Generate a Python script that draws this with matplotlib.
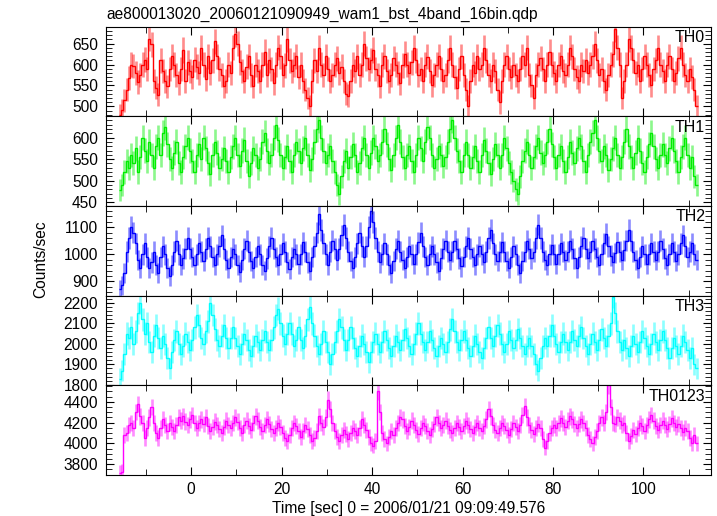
import numpy as np
import matplotlib
matplotlib.use('Agg')
import matplotlib.pyplot as plt
from matplotlib.ticker import MultipleLocator

plt.rcParams['font.family'] = ['Liberation Sans', 'DejaVu Sans']

# 0.5 s bins, from -16 s to 112 s
edges = np.arange(-16, 112.01, 0.5)
t = edges[:-1] + 0.25

th0 = [480, 492, 515, 540, 568, 600, 596, 580, 558, 575, 600, 612, 590, 662, 648, 560,
       545, 528, 610, 585, 560, 548, 590, 620, 600, 575, 556, 590, 635, 560, 605, 585,
       570, 612, 595, 580, 640, 600, 565, 620, 580, 610, 655, 620, 590, 575, 548, 560,
       600, 580, 640, 672, 650, 605, 585, 560, 595, 620, 575, 548, 600, 585, 560, 600,
       630, 575, 610, 590, 555, 600, 640, 620, 575, 598, 660, 610, 585, 600, 620, 570,
       600, 560, 540, 520, 500, 560, 610, 585, 640, 600, 575, 620, 590, 560, 575, 600,
       615, 580, 595, 560, 530, 525, 560, 600, 585, 620, 575, 600, 650, 615, 590, 610,
       635, 590, 575, 548, 600, 620, 585, 560, 575, 615, 600, 580, 555, 598, 625, 600,
       580, 605, 640, 610, 575, 590, 560, 600, 618, 585, 550, 575, 600, 620, 590, 560,
       575, 610, 640, 600, 570, 545, 590, 620, 575, 540, 500, 560, 600, 580, 620, 590,
       600, 640, 610, 575, 560, 600, 585, 540, 510, 560, 600, 620, 590, 570, 600, 575,
       560, 590, 620, 600, 640, 575, 550, 520, 575, 600, 615, 590, 560, 600, 630, 600,
       580, 560, 600, 620, 585, 575, 600, 640, 620, 590, 570, 560, 600, 585, 610, 580,
       600, 620, 650, 610, 575, 590, 560, 540, 575, 600, 625, 685, 640, 600, 520, 560,
       600, 660, 640, 610, 580, 600, 560, 590, 620, 600, 575, 550, 590, 610, 640, 600,
       585, 560, 600, 620, 590, 560, 580, 615, 640, 600, 575, 560, 590, 570, 540, 500]

th1 = [478, 490, 520, 545, 530, 560, 540, 575, 520, 555, 600, 570, 545, 590, 560, 530,
       580, 600, 560, 610, 625, 585, 550, 530, 565, 590, 540, 520, 555, 580, 600, 570,
       545, 520, 560, 585, 550, 600, 575, 540, 515, 560, 590, 565, 530, 550, 575, 545,
       520, 555, 580, 600, 560, 535, 570, 595, 545, 510, 540, 575, 560, 530, 550, 590,
       610, 570, 540, 560, 600, 630, 595, 560, 530, 555, 580, 545, 520, 560, 590, 570,
       540, 575, 600, 560, 525, 550, 590, 620, 640, 600, 570, 540, 560, 580, 545, 520,
       490, 470, 510, 545, 570, 530, 555, 585, 560, 520, 540, 575, 600, 560, 530, 565,
       600, 580, 545, 560, 590, 620, 585, 550, 525, 560, 600, 630, 590, 555, 530, 560,
       580, 545, 520, 560, 600, 575, 545, 590, 625, 600, 560, 530, 550, 580, 560, 535,
       555, 590, 620, 640, 600, 570, 545, 520, 560, 590, 560, 530, 555, 580, 545, 520,
       560, 595, 570, 540, 515, 550, 585, 560, 530, 560, 600, 575, 540, 520, 500, 480,
       470, 510, 545, 570, 590, 560, 530, 555, 580, 600, 565, 540, 560, 590, 620, 585,
       555, 530, 560, 580, 545, 520, 555, 590, 565, 540, 575, 600, 580, 545, 520, 560,
       590, 610, 640, 600, 570, 545, 580, 560, 525, 550, 575, 600, 560, 530, 555, 590,
       620, 580, 555, 530, 565, 600, 570, 540, 520, 555, 585, 610, 580, 550, 530, 560,
       585, 560, 540, 575, 600, 570, 545, 520, 555, 580, 600, 560, 530, 555, 510, 490]

th2 = [870, 885, 930, 1010, 1060, 1100, 1080, 1040, 980, 950, 1000, 1040, 990, 950, 970, 1010,
       960, 930, 990, 1030, 1000, 950, 920, 960, 1010, 1050, 1000, 960, 985, 1020, 1060, 1020,
       990, 960, 1000, 1040, 1010, 975, 1020, 1060, 1030, 990, 960, 1000, 1030, 1070, 1020, 980,
       950, 990, 1020, 1000, 960, 935, 980, 1020, 1050, 1010, 975, 950, 990, 1030, 1000, 960,
       940, 985, 1030, 1060, 1020, 990, 960, 1000, 1040, 1010, 970, 945, 990, 1020, 1000, 965,
       1000, 1045, 1010, 970, 940, 990, 1030, 1080, 1150, 1090, 1040, 1000, 960, 1010, 1050, 1020,
       980, 1020, 1070, 1110, 1060, 1010, 975, 950, 990, 1040, 1080, 1030, 990, 1030, 1100, 1160,
       1120, 1060, 1010, 970, 1000, 1040, 1000, 960, 930, 975, 1020, 1050, 1010, 980, 950, 990,
       1030, 1000, 965, 1000, 1045, 1080, 1030, 990, 960, 1000, 1030, 1000, 970, 940, 985, 1020,
       1050, 1010, 980, 1010, 1050, 1020, 985, 955, 990, 1030, 1060, 1020, 990, 960, 1000, 1030,
       1000, 970, 1010, 1060, 1090, 1040, 1000, 975, 1010, 1045, 1010, 975, 950, 990, 1030, 1000,
       960, 930, 975, 1010, 1050, 1020, 985, 1010, 1060, 1110, 1060, 1010, 980, 960, 1000, 1035,
       1000, 965, 1000, 1040, 1010, 980, 1010, 1050, 1020, 985, 950, 990, 1030, 1060, 1020, 985,
       1010, 1050, 1020, 990, 960, 1000, 1040, 1075, 1030, 995, 970, 1005, 1045, 1010, 980, 1015,
       1050, 1090, 1050, 1010, 980, 950, 990, 1030, 1000, 965, 1000, 1040, 1010, 980, 1010, 1050,
       1020, 985, 960, 1000, 1040, 1010, 975, 1000, 1040, 1070, 1030, 990, 1010, 1040, 1000, 980]

th3 = [1830, 1870, 1950, 2050, 2030, 2080, 2000, 2060, 2150, 2200, 2120, 2050, 2100, 2010, 1960, 2040,
       2090, 2030, 1980, 2040, 2000, 1930, 1880, 1960, 2020, 2060, 2000, 1950, 1990, 2050, 2010, 1970,
       2020, 2080, 2140, 2090, 2030, 2000, 2060, 2110, 2200, 2140, 2070, 2020, 1990, 2040, 2090, 2030,
       1980, 2030, 2080, 2030, 1990, 1950, 2000, 2050, 2020, 1970, 1940, 1990, 2040, 2010, 1970, 2020,
       2060, 2010, 1970, 2020, 2080, 2140, 2170, 2100, 2040, 2000, 2050, 2100, 2050, 1990, 2020, 2080,
       2020, 1980, 2040, 2120, 2180, 2100, 2040, 1990, 1950, 2000, 2060, 2010, 1960, 1900, 1950, 2010,
       2060, 2120, 2080, 2020, 1970, 2020, 2080, 2030, 1980, 1940, 1990, 2040, 2000, 1960, 1910, 1960,
       2010, 2050, 2000, 1960, 2010, 2060, 2020, 1980, 1940, 1990, 2040, 2010, 1970, 2020, 2070, 2030,
       1990, 1950, 2000, 2050, 2100, 2050, 2010, 1970, 2010, 2060, 2020, 1980, 1940, 1990, 2030, 2000,
       1960, 2010, 2070, 2120, 2060, 2010, 1970, 2020, 2060, 2020, 1980, 1940, 1990, 2040, 2000, 1960,
       1930, 1980, 2030, 2080, 2030, 1990, 2040, 2090, 2050, 2000, 1960, 2000, 2060, 2020, 1980, 2020,
       2070, 2030, 1990, 1950, 1990, 2030, 1990, 1950, 1900, 1870, 1930, 1990, 2030, 1990, 2040, 2090,
       2040, 2000, 1960, 2010, 2050, 2010, 1970, 2010, 2060, 2020, 1990, 2040, 2080, 2030, 1990, 1950,
       2000, 2050, 2010, 1970, 2020, 2070, 2030, 1990, 2040, 2100, 2230, 2150, 2060, 2010, 1970, 2020,
       1980, 1940, 1990, 2040, 2000, 1960, 2010, 2060, 2030, 1990, 1950, 2000, 2050, 2010, 1970, 2020,
       2060, 2020, 1980, 1930, 1980, 2030, 1990, 1950, 1990, 2040, 2010, 1970, 1930, 1980, 1900, 1880]

th0123 = [3715, 3730, 4080, 4100, 4180, 4200, 4150, 4300, 4380, 4260, 4200, 4050, 4150, 4250, 4350, 4200,
          4100, 4050, 4150, 4230, 4180, 4120, 4200, 4160, 4120, 4180, 4250, 4220, 4260, 4210, 4180, 4230,
          4270, 4200, 4150, 4200, 4230, 4190, 4250, 4170, 4120, 4160, 4210, 4180, 4140, 4100, 4160, 4220,
          4180, 4150, 4200, 4250, 4210, 4150, 4100, 4180, 4220, 4170, 4130, 4200, 4260, 4220, 4160, 4120,
          4180, 4230, 4190, 4140, 4100, 4150, 4200, 4160, 4100, 4050, 4020, 4080, 4150, 4200, 4170, 4120,
          4060, 4120, 4180, 4140, 4080, 4020, 4050, 4120, 4260, 4200, 4160, 4250, 4420, 4330, 4200, 4120,
          4060, 4020, 4080, 4130, 4090, 4040, 4100, 4150, 4120, 4080, 4150, 4230, 4180, 4130, 4060, 4000,
          3980, 4020, 4500, 4300, 4100, 4040, 4000, 4060, 4120, 4080, 4150, 4200, 4250, 4230, 4170, 4120,
          4160, 4220, 4180, 4130, 4090, 4150, 4200, 4170, 4120, 4080, 4140, 4190, 4250, 4200, 4150, 4180,
          4220, 4170, 4130, 4100, 4150, 4200, 4160, 4120, 4170, 4220, 4180, 4140, 4100, 4160, 4200, 4150,
          4120, 4170, 4230, 4330, 4260, 4180, 4130, 4100, 4150, 4200, 4170, 4130, 4080, 4140, 4200, 4160,
          4120, 4180, 4270, 4360, 4250, 4180, 4130, 4090, 4150, 4190, 4150, 4040, 3960, 4020, 4100, 4150,
          4180, 4150, 4200, 4240, 4200, 4160, 4220, 4260, 4230, 4190, 4150, 4190, 4230, 4200, 4150, 4080,
          4040, 4000, 4060, 4120, 4200, 4250, 4200, 4300, 4560, 4350, 4200, 4190, 4250, 4220, 4180, 4200,
          4100, 4020, 4070, 4130, 4090, 4150, 4200, 4170, 4120, 4180, 4230, 4270, 4220, 4170, 4130, 4180,
          4220, 4180, 4140, 4190, 4240, 4200, 4160, 4190, 4150, 4110, 4150, 4120, 4050, 4000, 4080, 4000]

series = [th0, th1, th2, th3, th0123]
names = ['TH0', 'TH1', 'TH2', 'TH3', 'TH0123']
colors = ['#ff0000', '#00ee00', '#0000ff', '#00ffff', '#ff00ff']
ylims = [(476, 690), (441, 649), (847, 1178), (1798, 2234), (3697, 4558)]
majors = [50, 50, 100, 100, 200]
minors = [10, 10, 20, 20, 50]

fig, axes = plt.subplots(5, 1, figsize=(7.17, 5.16), dpi=100, sharex=True)
fig.subplots_adjust(left=0.148, right=0.992, top=0.948, bottom=0.0795, hspace=0)

for ax, y, name, c, yl, mj, mn in zip(axes, series, names, colors, ylims, majors, minors):
    y = np.array(y, dtype=float)
    err = 1.2 * np.sqrt(y)  # error size
    ax.vlines(t, y - err, y + err, color=c, alpha=0.45, lw=1.9)
    ax.stairs(y, edges, color=c, lw=1.0, baseline=None)
    ax.set_ylim(*yl)
    ax.set_xlim(-18.8, 115)
    ax.yaxis.set_major_locator(MultipleLocator(mj))
    ax.yaxis.set_minor_locator(MultipleLocator(mn))
    ax.xaxis.set_major_locator(MultipleLocator(20))
    ax.xaxis.set_minor_locator(MultipleLocator(10))
    ax.tick_params(which='both', direction='in', top=True, right=True, labelsize=11.2)
    ax.tick_params(which='major', length=6, pad=6)
    ax.tick_params(which='minor', length=4)
    ax.text(0.99, 0.88, name, transform=ax.transAxes, ha='right', va='center', fontsize=11.5)

axes[-1].tick_params(axis='x', pad=5)
axes[-1].set_xlabel('Time [sec] 0 = 2006/01/21 09:09:49.576', fontsize=11.2, labelpad=3)
fig.text(0.057, 0.498, 'Counts/sec', rotation=90, ha='center', va='center', fontsize=11.2)
fig.text(0.149, 0.973, 'ae800013020_20060121090949_wam1_bst_4band_16bin.qdp',
         ha='left', va='center', fontsize=11.2)

fig.savefig('out.png', dpi=100)
